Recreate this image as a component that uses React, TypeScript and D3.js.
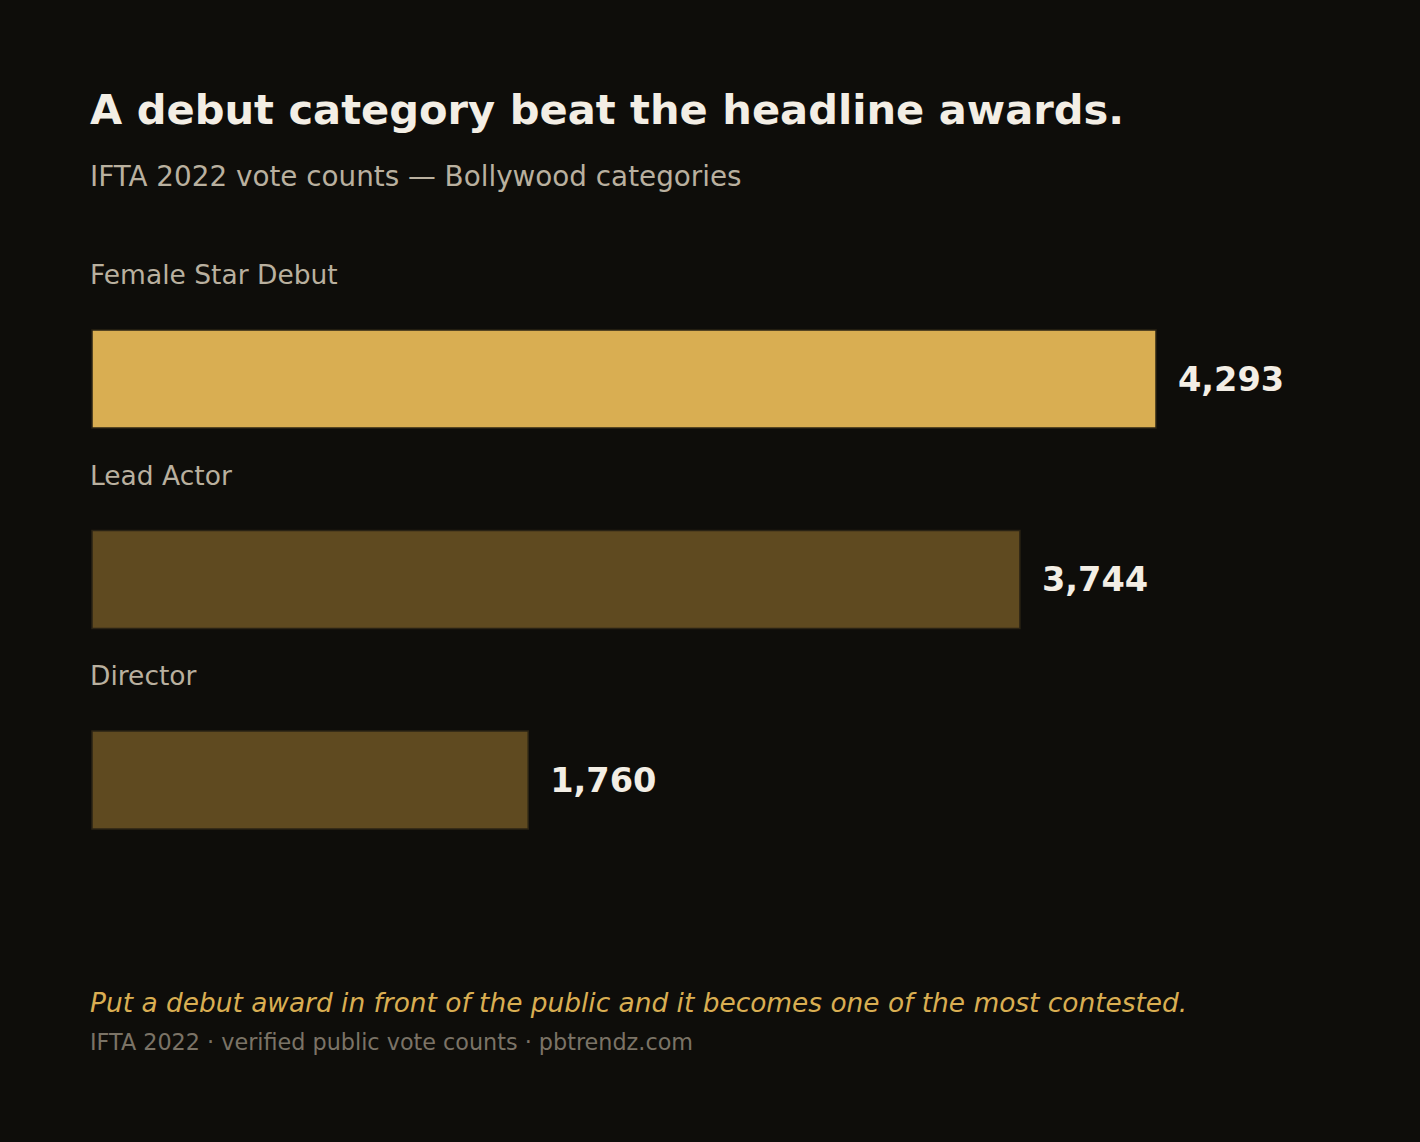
import React, { useEffect, useRef } from 'react';
import * as d3 from 'd3';

// Chart data
const categories = ['Female Star Debut', 'Lead Actor', 'Director'];
const votes = [4293, 3744, 1760];
const highlight = [true, false, false];

const WIDTH = 1420;
const HEIGHT = 1142;
const FONT = '"DejaVu Sans", sans-serif';

const App: React.FC = () => {
    const svgRef = useRef<SVGSVGElement>(null);

    useEffect(() => {
        if (!svgRef.current) return;
        const svg = d3.select(svgRef.current);
        svg.selectAll('*').remove();

        svg.append('rect')
            .attr('width', WIDTH)
            .attr('height', HEIGHT)
            .attr('fill', '#0e0d0a');

        // Headline + subtitle
        svg.append('text')
            .attr('x', 90)
            .attr('y', 124)
            .attr('fill', '#f3eee5')
            .attr('font-family', FONT)
            .attr('font-weight', 'bold')
            .attr('font-size', 41.6)
            .text('A debut category beat the headline awards.');

        svg.append('text')
            .attr('x', 90)
            .attr('y', 186)
            .attr('fill', '#b9b09f')
            .attr('font-family', FONT)
            .attr('font-size', 27.8)
            .text('IFTA 2022 vote counts \u2014 Bollywood categories');

        // Row positions and bar lengths
        const rows = d3.scaleBand<string>()
            .domain(categories)
            .range([250, 250 + categories.length * 200.5])
            .paddingInner(0);

        const x = d3.scaleLinear()
            .domain([0, d3.max(votes) as number])
            .range([92, 1156]);

        const data = categories.map((c, i) => ({ name: c, value: votes[i], hi: highlight[i] }));

        const g = svg.selectAll('g.row')
            .data(data)
            .enter()
            .append('g')
            .attr('class', 'row')
            .attr('transform', d => `translate(0, ${rows(d.name)})`);

        g.append('text')
            .attr('x', 90)
            .attr('y', 34)
            .attr('fill', '#b9b09f')
            .attr('font-family', FONT)
            .attr('font-size', 26.5)
            .text(d => d.name);

        g.append('rect')
            .attr('x', x(0))
            .attr('y', 80)
            .attr('width', d => x(d.value) - x(0))
            .attr('height', 98)
            .attr('fill', d => d.hi ? '#d9ae52' : '#5f4a20')
            .attr('stroke', '#2a2314')
            .attr('stroke-width', 1.5);

        g.append('text')
            .attr('x', d => x(d.value) + 22)
            .attr('y', 80 + 49)
            .attr('dominant-baseline', 'central')
            .attr('fill', '#f3eee5')
            .attr('font-family', FONT)
            .attr('font-weight', 'bold')
            .attr('font-size', 33.6)
            .text(d => d3.format(',')(d.value));

        // Footer
        svg.append('text')
            .attr('x', 90)
            .attr('y', 1012)
            .attr('fill', '#d9ae52')
            .attr('font-family', FONT)
            .attr('font-style', 'italic')
            .attr('font-size', 26.4)
            .text('Put a debut award in front of the public and it becomes one of the most contested.');

        svg.append('text')
            .attr('x', 90)
            .attr('y', 1050)
            .attr('fill', '#7b7366')
            .attr('font-family', FONT)
            .attr('font-size', 22.3)
            .text('IFTA 2022 \u00b7 verified public vote counts \u00b7 pbtrendz.com');
    }, []);

    return (
        <div style={{ position: 'absolute', left: 0, top: 0 }}>
            <svg ref={svgRef} width={WIDTH} height={HEIGHT} style={{ display: 'block' }} />
        </div>
    );
};

export default App;
